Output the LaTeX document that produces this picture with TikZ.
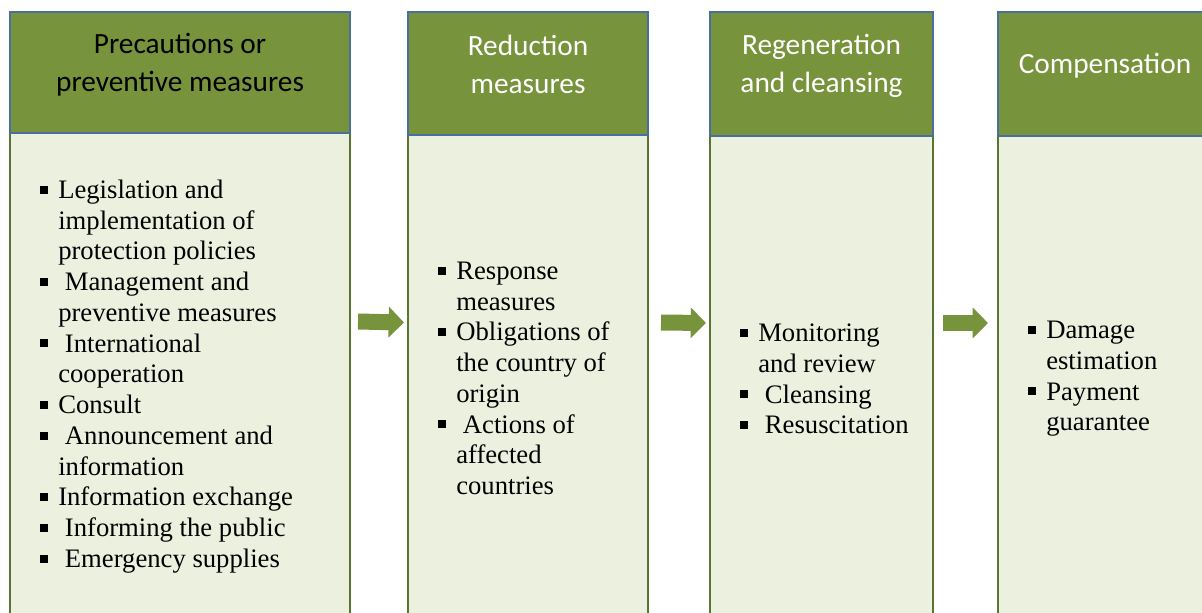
\documentclass[tikz,border=0pt]{standalone}
\usepackage{fontspec}
\setmainfont{Liberation Serif}
\newfontfamily\hdfont{Carlito}
\usetikzlibrary{arrows.meta}
\usetikzlibrary{calc}

\definecolor{hdgreen}{HTML}{77933C}
\definecolor{hdline}{HTML}{4A6E9E}
\definecolor{bdfill}{HTML}{EBF0DF}
\definecolor{bdline}{HTML}{5A7432}

\newcommand{\bul}{\makebox[13.5pt][l]{\rule[3.6pt]{6pt}{6pt}}}
\newcommand{\ind}{\hspace*{13.5pt}}

\tikzset{
  hdbox/.style={draw=hdline, line width=1.4pt, fill=hdgreen, anchor=north west,
    inner sep=0pt, outer sep=0pt},
  bdbox/.style={draw=bdline, line width=1.6pt, fill=bdfill, anchor=north west,
    inner sep=0pt, outer sep=0pt},
  hdtext/.style={align=center, font=\hdfont\fontsize{22}{28.5}\selectfont},
  bdtext/.style={align=left, anchor=west, inner sep=0pt,
    font=\fontsize{20}{23.06}\selectfont},
  flow/.style={draw=hdgreen, line width=12pt, -{Triangle[length=11.5pt,width=22.5pt]}}
}

\begin{document}
\begin{tikzpicture}[x=0.75pt, y=-0.75pt]
  \useasboundingbox (0,0) rectangle (1202,612);
  \clip (0,0) rectangle (1202,612);

  % bodies
  \node[bdbox, minimum width=255pt, minimum height=363.75pt] (bd1) at (10,133) {};
  \node[bdbox, minimum width=180pt, minimum height=362.25pt] (bd2) at (408,135) {};
  \node[bdbox, minimum width=167.25pt, minimum height=361.5pt] (bd3) at (710,136) {};
  \node[bdbox, minimum width=160.5pt, minimum height=361.5pt] (bd4) at (998,136) {};

  % headers
  \node[hdbox, minimum width=255pt, minimum height=90.75pt] (hd1) at (10,12) {};
  \node[hdbox, minimum width=180pt, minimum height=92.25pt] (hd2) at (408,12) {};
  \node[hdbox, minimum width=167.25pt, minimum height=93pt] (hd3) at (710,12) {};
  \node[hdbox, minimum width=160.5pt, minimum height=93pt] (hd4) at (998,12) {};

  \node[hdtext, text=black] (t1) at ($(hd1.center)+(0,-8)$) {Precautions or\\preventive measures};
  \node[hdtext, text=white] (t2) at ($(hd2.center)+(0,-9)$) {Reduction\\measures};
  \node[hdtext, text=white] (t3) at ($(hd3.center)+(0,-8)$) {Regeneration\\and cleansing};
  \node[hdtext, text=white] (t4) at ($(hd4.center)+(0,-8)$) {Compensation};

  % lists
  \node[bdtext] (l1) at ($(bd1.west)+(30,1)$) {\bul Legislation and\\ \ind implementation of\\
    \ind protection policies\\ \bul\ Management and\\ \ind preventive measures\\
    \bul\ International\\ \ind cooperation\\ \bul Consult\\ \bul\ Announcement and\\
    \ind information\\ \bul Information exchange\\ \bul\ Informing the public\\
    \bul\ Emergency supplies};
  \node[bdtext] (l2) at ($(bd2.west)+(30,2)$) {\bul Response\\ \ind measures\\
    \bul Obligations of\\ \ind the country of\\ \ind origin\\ \bul\ Actions of\\
    \ind affected\\ \ind countries};
  \node[bdtext] (l3) at ($(bd3.west)+(30,2)$) {\bul Monitoring\\ \ind and review\\
    \bul\ Cleansing\\ \bul\ Resuscitation};
  \node[bdtext] (l4) at ($(bd4.west)+(30,2)$) {\bul Damage\\ \ind estimation\\
    \bul Payment\\ \ind guarantee};

  % arrows
  \draw[flow] ($(bd1.east)+(8,-54)$) -- ($(bd2.west)+(-4,-54)$);
  \draw[flow] ($(bd2.east)+(13,-54)$) -- ($(bd3.west)+(-4,-54)$);
  \draw[flow] ($(bd3.east)+(10,-54)$) -- ($(bd4.west)+(-10,-54)$);
\end{tikzpicture}
\end{document}
